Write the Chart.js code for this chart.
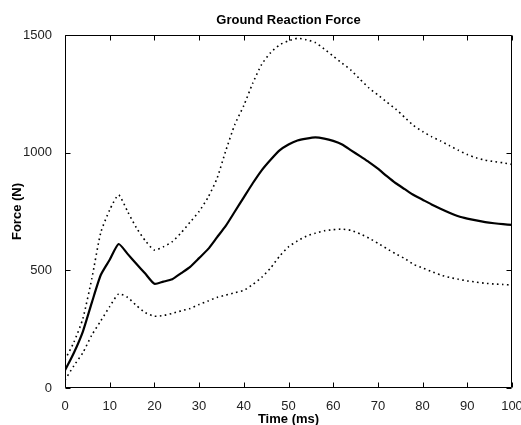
<!DOCTYPE html>
<html>
<head>
<meta charset="utf-8">
<script src="https://cdn.jsdelivr.net/npm/chart.js@4.4.0/dist/chart.umd.min.js"></script>
<style>
  html, body { margin: 0; padding: 0; background: #fff; }
  #wrap { width: 521px; height: 425px; }
</style>
</head>
<body>
<div id="wrap"><canvas id="grf"></canvas></div>
<script>
// time in ms, force in N
const time = [0, 2, 4, 6, 8, 10, 12, 14, 16, 18, 20, 22, 24, 26, 28, 30, 32, 34, 36, 38, 40,
  42, 44, 46, 48, 50, 52, 54, 56, 58, 60, 62, 64, 66, 68, 70, 72, 74, 76, 78, 80,
  82, 84, 86, 88, 90, 92, 94, 96, 98, 100];
const meanForce = [75, 150, 240, 363, 480, 545, 612, 570, 527, 485, 443, 452, 462, 488, 515, 552, 590, 640, 690, 750, 810,
  870, 925, 970, 1010, 1035, 1052, 1060, 1065, 1060, 1050, 1035, 1010, 985, 960, 932, 900, 870, 845, 820, 800,
  780, 762, 745, 730, 720, 712, 705, 700, 696, 693];
const upperForce = [120, 195, 295, 465, 660, 757, 820, 750, 680, 625, 586, 600, 622, 660, 705, 750, 810, 890, 1010, 1120, 1200,
  1295, 1375, 1425, 1458, 1475, 1486, 1480, 1468, 1440, 1410, 1380, 1350, 1312, 1275, 1245, 1215, 1185, 1150, 1115, 1090,
  1068, 1050, 1030, 1010, 992, 978, 968, 962, 957, 950];
const lowerForce = [34, 95, 150, 225, 285, 346, 400, 385, 350, 320, 305, 308, 317, 328, 338, 355, 370, 385, 395, 405, 415,
  440, 470, 510, 560, 600, 625, 645, 658, 668, 673, 675, 670, 655, 637, 615, 592, 570, 550, 525, 510,
  495, 480, 470, 462, 455, 450, 445, 442, 440, 437];
const xTicks = [0, 100, 10];
const yTicks = [0, 1500, 500];

const font = "'Liberation Sans', Arial, sans-serif";

function pts(vals) {
  return time.map((t, i) => ({ x: t, y: vals[i] }));
}

// box, inward tick marks and the title
const frame = {
  id: "frame",
  afterDraw(chart) {
    const ctx = chart.ctx;
    const a = chart.chartArea;
    const xs = chart.scales.x;
    const ys = chart.scales.y;
    const L = Math.round(a.left) + 0.5, R = Math.round(a.right) - 0.5;
    const T = Math.round(a.top) + 0.5, B = Math.round(a.bottom) - 0.5;
    ctx.save();
    ctx.strokeStyle = "#000";
    ctx.lineWidth = 1;
    ctx.beginPath();
    ctx.rect(L, T, R - L, B - T);
    xs.ticks.forEach(t => {
      const px = Math.round(xs.getPixelForValue(t.value)) + 0.5;
      ctx.moveTo(px, B); ctx.lineTo(px, B - 5);
      ctx.moveTo(px, T); ctx.lineTo(px, T + 5);
    });
    ys.ticks.forEach(t => {
      const py = Math.round(ys.getPixelForValue(t.value)) + 0.5;
      ctx.moveTo(L, py); ctx.lineTo(L + 5, py);
      ctx.moveTo(R, py); ctx.lineTo(R - 5, py);
    });
    ctx.stroke();
    ctx.fillStyle = "#000";
    ctx.font = "bold 13px " + font;
    ctx.textAlign = "center";
    ctx.textBaseline = "middle";
    ctx.fillText("Ground Reaction Force", (a.left + a.right) / 2, 20);
    ctx.restore();
  }
};

new Chart(document.getElementById("grf"), {
  type: "line",
  data: {
    datasets: [
      {
        label: "Mean",
        data: pts(meanForce),
        borderColor: "#000",
        borderWidth: 2.2,
        pointRadius: 0,
        tension: 0.2,
      },
      {
        label: "Upper",
        data: pts(upperForce),
        borderColor: "#000",
        borderWidth: 1.6,
        borderDash: [1.6, 3.4],
        pointRadius: 0,
        tension: 0.2,
      },
      {
        label: "Lower",
        data: pts(lowerForce),
        borderColor: "#000",
        borderWidth: 1.6,
        borderDash: [1.6, 3.4],
        pointRadius: 0,
        tension: 0.2,
      },
    ],
  },
  options: {
    responsive: true,
    maintainAspectRatio: false,
    animation: false,
    layout: { padding: { top: 35, right: 9, left: 0, bottom: 0 } },
    plugins: {
      legend: { display: false },
      title: { display: false },
      tooltip: { enabled: false },
    },
    scales: {
      x: {
        type: "linear",
        min: xTicks[0],
        max: xTicks[1],
        grid: { display: false },
        border: { display: false },
        ticks: {
          stepSize: xTicks[2],
          color: "#222",
          padding: 3,
          font: { family: font, size: 13 },
          callback: v => String(v),
        },
        title: {
          display: true,
          text: "Time (ms)",
          color: "#000",
          font: { family: font, size: 13, weight: "bold", lineHeight: 1 },
          padding: { top: 0, bottom: -1 },
        },
        afterFit(scale) {
          scale.height = 37;
          scale.paddingLeft = 0;
          scale.paddingRight = 0;
        },
      },
      y: {
        min: yTicks[0],
        max: yTicks[1],
        grid: { display: false },
        border: { display: false },
        ticks: {
          stepSize: yTicks[2],
          color: "#222",
          padding: 5,
          font: { family: font, size: 13 },
          callback: v => String(v),
        },
        title: {
          display: true,
          text: "Force (N)",
          color: "#000",
          font: { family: font, size: 13, weight: "bold", lineHeight: 1.2 },
          padding: { top: 10, bottom: 0 },
        },
        afterFit(scale) {
          scale.width = 65;
        },
      },
    },
  },
  plugins: [frame],
});
</script>
</body>
</html>
